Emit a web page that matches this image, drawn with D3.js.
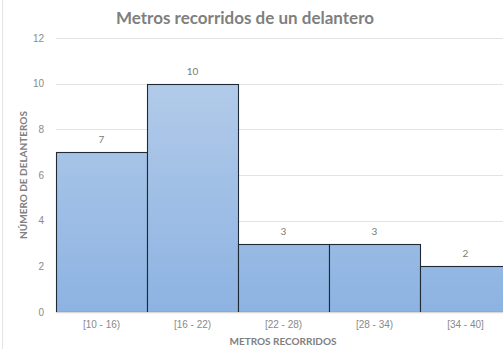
<!DOCTYPE html>
<html>
<head>
<meta charset="utf-8">
<script src="https://cdn.jsdelivr.net/npm/d3@7/dist/d3.min.js"></script>
<style>
  html, body { margin: 0; padding: 0; background: #fff; }
  svg { display: block; font-family: Lato, "Open Sans", sans-serif; }
</style>
</head>
<body>
<svg id="chart" width="503" height="349"></svg>
<script>
// Frequency table: distance intervals and number of forwards in each
const categories = ["[10 - 16)", "[16 - 22)", "[22 - 28)", "[28 - 34)", "[34 - 40]"];
const counts = [7, 10, 3, 3, 2];
const yTicks = [0, 2, 4, 6, 8, 10, 12];

const svg = d3.select("#chart");
const W = 503, H = 349;
const margin = { left: 56, top: 38, bottom: 37 };
const plotBottom = H - margin.bottom;
const bandW = 91;

const x = d3.scaleBand()
  .domain(categories)
  .range([margin.left, margin.left + bandW * categories.length])
  .padding(0);

const y = d3.scaleLinear()
  .domain([0, 12])
  .range([plotBottom, margin.top]);

// Bar fill gradient
const defs = svg.append("defs");
const grad = defs.append("linearGradient")
  .attr("id", "barGrad")
  .attr("gradientUnits", "userSpaceOnUse")
  .attr("x1", 0).attr("x2", 0)
  .attr("y1", y(12)).attr("y2", plotBottom);
grad.append("stop").attr("offset", "0%").attr("stop-color", "#b9cfea");
grad.append("stop").attr("offset", "100%").attr("stop-color", "#8db3e2");

// Faint sheet border on the far left
svg.append("line")
  .attr("x1", 2.5).attr("x2", 2.5).attr("y1", 0).attr("y2", H)
  .attr("stroke", "#e4e4e4");

// Gridlines
svg.append("g")
  .selectAll("line")
  .data(yTicks.filter(d => d > 0))
  .join("line")
  .attr("x1", margin.left).attr("x2", W)
  .attr("y1", d => Math.round(y(d)) + 0.5).attr("y2", d => Math.round(y(d)) + 0.5)
  .attr("stroke", "#e3e3e3").attr("stroke-width", 1);

// Y axis labels
const yAxis = d3.axisLeft(y).tickValues(yTicks).tickSize(0).tickPadding(12);
const yg = svg.append("g").attr("transform", `translate(${margin.left},0)`).call(yAxis);
yg.select(".domain").remove();
yg.selectAll("text").attr("fill", "#8a8a8a").style("font-size", "10px");

// Bars
svg.append("g")
  .selectAll("rect")
  .data(counts)
  .join("rect")
  .attr("x", (d, i) => x(categories[i]) + 0.5)
  .attr("y", d => Math.round(y(d)) + 0.5)
  .attr("width", x.bandwidth())
  .attr("height", d => plotBottom - Math.round(y(d)))
  .attr("fill", "url(#barGrad)")
  .attr("stroke", "#1f2a36")
  .attr("stroke-width", 1.1);

// Baseline
svg.append("line")
  .attr("x1", margin.left).attr("x2", W)
  .attr("y1", plotBottom + 0.5).attr("y2", plotBottom + 0.5)
  .attr("stroke", "#d9d9d9");

// Value labels
svg.append("g")
  .selectAll("text")
  .data(counts)
  .join("text")
  .attr("x", (d, i) => x(categories[i]) + x.bandwidth() / 2)
  .attr("y", d => y(d) - 9)
  .attr("text-anchor", "middle")
  .attr("fill", "#7a7a7a")
  .style("font-size", "10px")
  .text(d => d);

// X axis labels
const xAxis = d3.axisBottom(x).tickSize(0).tickPadding(9);
const xg = svg.append("g").attr("transform", `translate(0,${plotBottom})`).call(xAxis);
xg.select(".domain").remove();
xg.selectAll("text").attr("fill", "#8a8a8a").style("font-size", "10px");

// Titles
svg.append("text")
  .attr("x", 245).attr("y", 24)
  .attr("text-anchor", "middle")
  .attr("fill", "#7f7f7f")
  .style("font-size", "17px").style("font-weight", "bold")
  .text("Metros recorridos de un delantero");

svg.append("text")
  .attr("x", 283).attr("y", 345)
  .attr("text-anchor", "middle")
  .attr("fill", "#808080")
  .style("font-size", "10px").style("font-weight", "bold")
  .text("METROS RECORRIDOS");

svg.append("text")
  .attr("transform", "translate(27,175) rotate(-90)")
  .attr("text-anchor", "middle")
  .attr("fill", "#808080")
  .style("font-size", "10px").style("font-weight", "bold")
  .text("NÚMERO DE DELANTEROS");
</script>
</body>
</html>
